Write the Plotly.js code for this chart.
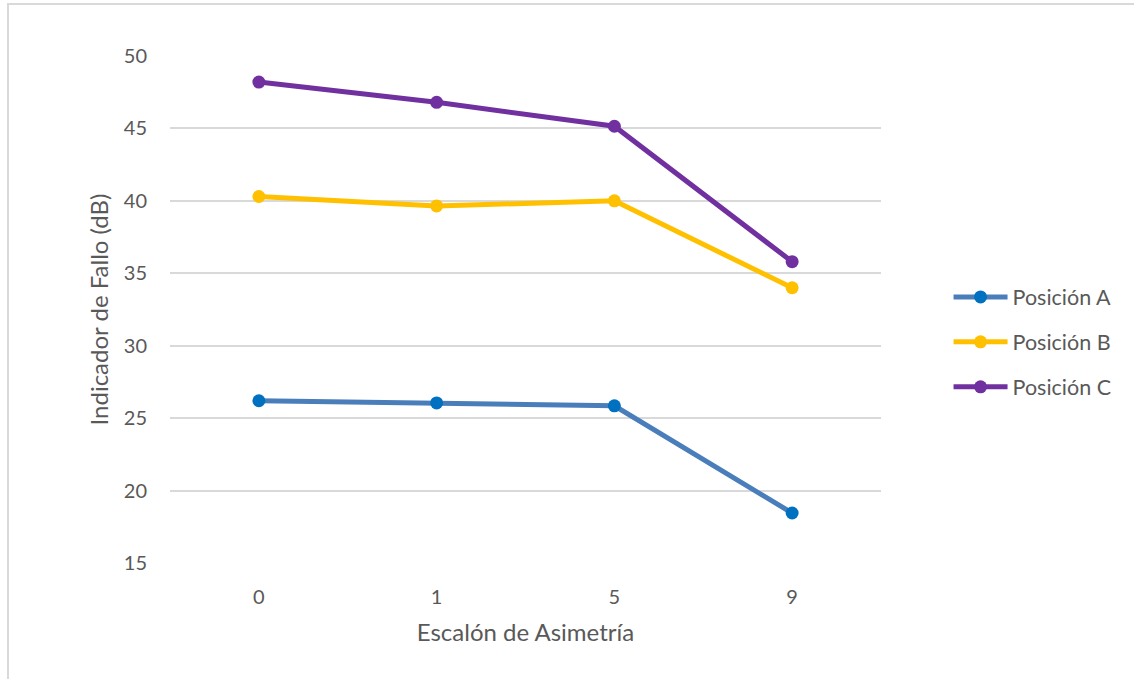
<!DOCTYPE html>
<html>
<head>
<meta charset="utf-8">
<script src="https://cdn.plot.ly/plotly-3.0.1.min.js"></script>
<style>
  html, body { margin: 0; padding: 0; background: #fff; }
  #wrap { position: relative; width: 1134px; height: 679px; overflow: hidden; }
  #chart { position: absolute; left: 0; top: 0; width: 1134px; height: 679px; }
  #frame { position: absolute; left: 7px; top: 3px; width: 1200px; height: 800px;
           border: 2px solid #d9d9d9; pointer-events: none; }
</style>
</head>
<body>
<div id="wrap">
  <div id="chart"></div>
  <div id="frame"></div>
</div>
<script>
// Asymmetry steps (category axis) and fault indicator per position, in dB
const categories = ['0', '1', '5', '9'];
const posA = [26.2, 26.05, 25.85, 18.45];
const posB = [40.3, 39.65, 40.0, 34.0];
const posC = [48.2, 46.8, 45.15, 35.8];
const seriesNames = ['Posición A', 'Posición B', 'Posición C'];
const yTicks = [15, 20, 25, 30, 35, 40, 45, 50];

const FONT = 'Lato, "Open Sans", "Liberation Sans", sans-serif';
const TXT = '#595959';

function series(name, y, lineColor, markerColor, group) {
  return {
    type: 'scatter', mode: 'lines+markers', name: name,
    x: categories, y: y, legendgroup: group,
    line: { color: lineColor, width: 5 },
    marker: { color: markerColor, size: 13 }
  };
}

const data = [
  series(seriesNames[0], posA, '#4A7EBB', '#0070C0', 'a'),
  series(seriesNames[1], posB, '#FFC000', '#FFC000', 'b'),
  series(seriesNames[2], posC, '#7030A0', '#7030A0', 'c')
];

const layout = {
  width: 1134, height: 679,
  margin: { l: 170, r: 253, t: 56, b: 116 },
  paper_bgcolor: '#ffffff', plot_bgcolor: '#ffffff',
  font: { family: FONT, size: 20, color: TXT },
  showlegend: true,
  legend: {
    x: 1.095, y: 0.436, xanchor: 'left', yanchor: 'middle',
    traceorder: 'grouped', tracegroupgap: 14,
    font: { family: FONT, size: 21.5, color: TXT },
    itemwidth: 54
  },
  xaxis: {
    type: 'category', range: [-0.5, 3.5],
    showgrid: false, zeroline: false, showline: false,
    ticks: '', ticklabelstandoff: 20,
    tickfont: { family: FONT, size: 20, color: TXT },
    title: { text: 'Escalón de Asimetría', standoff: 17,
             font: { family: FONT, size: 24, color: TXT } }
  },
  yaxis: {
    range: [15, 50], tickvals: yTicks, ticktext: yTicks.map(String),
    showgrid: true, gridcolor: '#d9d9d9', gridwidth: 2,
    zeroline: false, showline: false, ticks: '',
    ticklabelstandoff: 22,
    tickfont: { family: FONT, size: 20, color: TXT },
    title: { text: 'Indicador de Fallo (dB)', standoff: 8,
             font: { family: FONT, size: 24, color: TXT } }
  }
};

Plotly.newPlot('chart', data, layout, { staticPlot: true, displayModeBar: false }).then(function (gd) {
  // stretch the legend line symbols to span the wider item width
  gd.querySelectorAll('.legend .legendlines path').forEach(function (p) {
    p.setAttribute('d', 'M5,0h54');
  });
  gd.querySelectorAll('.legend .legendpoints path.scatterpts').forEach(function (p) {
    p.setAttribute('transform', 'translate(32,0)');
  });
});
</script>
</body>
</html>
